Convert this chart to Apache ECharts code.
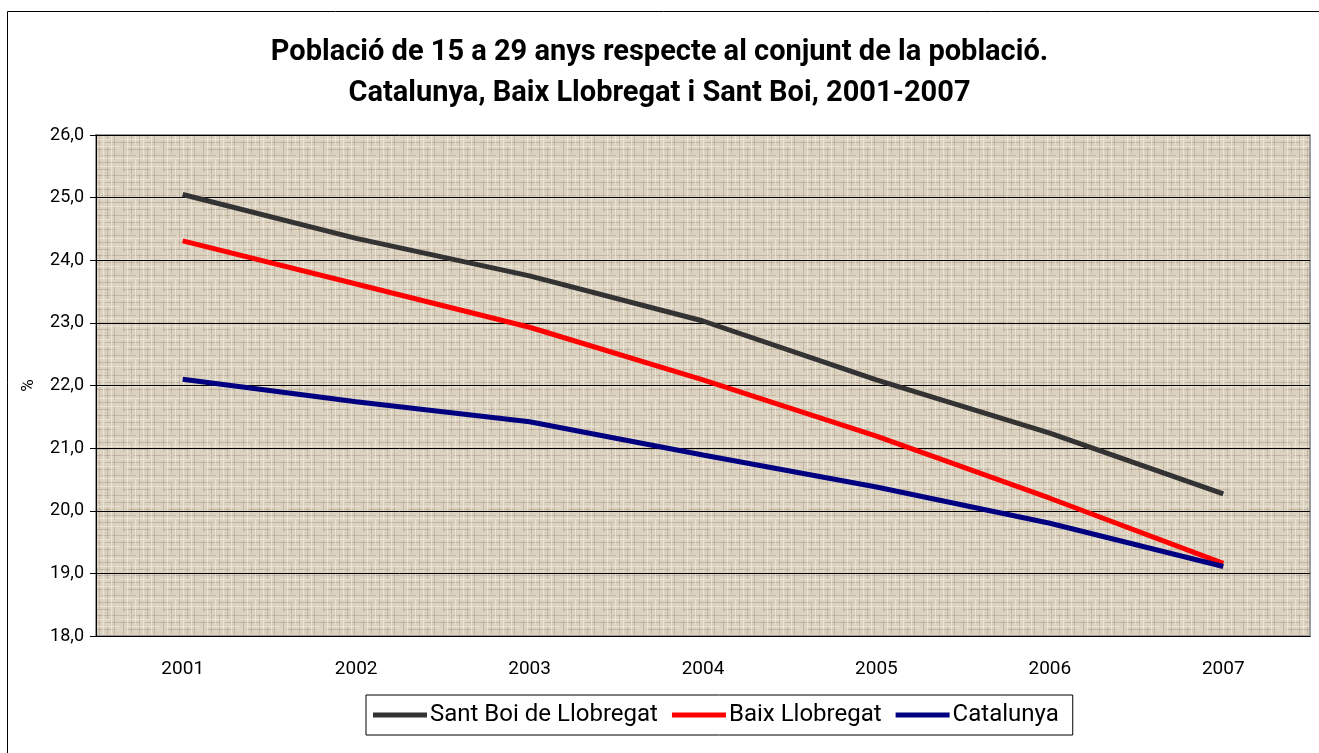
<html>
<head>
<meta charset="utf-8">
<script src="https://cdn.jsdelivr.net/npm/echarts@6/dist/echarts.min.js"></script>
<style>
    html, body { margin: 0; padding: 0; background: #fff; }
    #main { width: 1319px; height: 753px; }
</style>
</head>
<body>
<div id="main"></div>
<script>
var years = ['2001', '2002', '2003', '2004', '2005', '2006', '2007'];
var santBoi = [25.05, 24.35, 23.75, 23.03, 22.09, 21.24, 20.27];
var baixLlobregat = [24.31, 23.62, 22.93, 22.09, 21.19, 20.20, 19.16];
var catalunya = [22.10, 21.74, 21.42, 20.89, 20.38, 19.80, 19.11];

// textured beige fill for the plot area (fixed pattern of short dashes)
function makeTexture() {
    var n = 40;
    var c = document.createElement('canvas');
    c.width = n;
    c.height = n;
    var ctx = c.getContext('2d');
    ctx.fillStyle = '#dcd2c0';
    ctx.fillRect(0, 0, n, n);
    // darker threads: [x, y, w, h]
    var dark = [
        [0, 2, 14, 1], [18, 2, 22, 1], [4, 9, 26, 1], [0, 15, 9, 1], [13, 15, 27, 1],
        [0, 22, 20, 1], [25, 22, 15, 1], [6, 29, 28, 1], [0, 35, 16, 1], [21, 35, 19, 1],
        [3, 0, 1, 12], [3, 18, 1, 22], [11, 4, 1, 30], [19, 0, 1, 9], [19, 14, 1, 26],
        [27, 0, 1, 20], [27, 26, 1, 14], [34, 6, 1, 34]
    ];
    ctx.fillStyle = 'rgba(140,120,100,0.30)';
    dark.forEach(function (r) { ctx.fillRect(r[0], r[1], r[2], r[3]); });
    var light = [
        [0, 6, 40, 1], [0, 19, 30, 1], [8, 26, 32, 1], [0, 38, 40, 1],
        [7, 0, 1, 40], [15, 0, 1, 25], [23, 10, 1, 30], [31, 0, 1, 40]
    ];
    ctx.fillStyle = 'rgba(246,241,230,0.55)';
    light.forEach(function (r) { ctx.fillRect(r[0], r[1], r[2], r[3]); });
    return c;
}

var myChart = echarts.init(document.getElementById('main'));

var font = 'Roboto';

myChart.setOption({
    animation: false,
    backgroundColor: '#fff',
    title: {
        text: 'Població de 15 a 29 anys respecte al conjunt de la població.\nCatalunya, Baix Llobregat i Sant Boi, 2001-2007',
        left: 'center',
        top: 27,
        textStyle: {
            fontFamily: font,
            fontWeight: 'bold',
            fontSize: 29,
            lineHeight: 41,
            color: '#000'
        }
    },
    graphic: [{
        type: 'rect',
        shape: {x: 7.5, y: 11.5, width: 1330, height: 760},
        style: {fill: null, stroke: '#000', lineWidth: 1},
        silent: true
    }],
    legend: {
        bottom: 18,
        left: 366,
        itemWidth: 54,
        itemHeight: 5,
        itemGap: 14,
        padding: [8, 14, 8, 7],
        borderColor: '#000',
        borderWidth: 1,
        icon: 'rect',
        textStyle: {fontFamily: font, fontSize: 24, color: '#000', padding: [0, 0, 0, -2]},
        data: ['Sant Boi de Llobregat', 'Baix Llobregat', 'Catalunya']
    },
    grid: {
        left: 96,
        right: 9,
        top: 135,
        bottom: 117,
        show: true,
        backgroundColor: {image: makeTexture(), repeat: 'repeat'},
        borderColor: '#999',
        borderWidth: 2
    },
    xAxis: {
        type: 'category',
        data: years,
        boundaryGap: true,
        axisLine: {lineStyle: {color: '#000', width: 1}},
        axisTick: {length: 9, lineStyle: {color: '#000'}},
        axisLabel: {fontFamily: font, fontSize: 19, color: '#000', margin: 24}
    },
    yAxis: {
        type: 'value',
        min: 18,
        max: 26,
        interval: 1,
        name: '%',
        nameLocation: 'middle',
        nameGap: 59,
        nameTextStyle: {fontFamily: font, fontSize: 17, color: '#000'},
        axisLine: {show: true, lineStyle: {color: '#000', width: 1}},
        axisTick: {show: true, inside: false, length: 6, lineStyle: {color: '#000'}},
        axisLabel: {
            fontFamily: font,
            fontSize: 18,
            color: '#000',
            margin: 12,
            formatter: function (v) { return v.toFixed(1).replace('.', ','); }
        },
        splitLine: {lineStyle: {color: '#000', width: 1}}
    },
    series: [
        {
            name: 'Sant Boi de Llobregat',
            type: 'line',
            data: santBoi,
            symbol: 'none',
            color: '#333333',
            lineStyle: {width: 5, color: '#333333'}
        },
        {
            name: 'Baix Llobregat',
            type: 'line',
            data: baixLlobregat,
            symbol: 'none',
            color: '#ff0000',
            lineStyle: {width: 5, color: '#ff0000'}
        },
        {
            name: 'Catalunya',
            type: 'line',
            data: catalunya,
            symbol: 'none',
            color: '#000080',
            lineStyle: {width: 5, color: '#000080'}
        }
    ]
});
</script>
</body>
</html>
